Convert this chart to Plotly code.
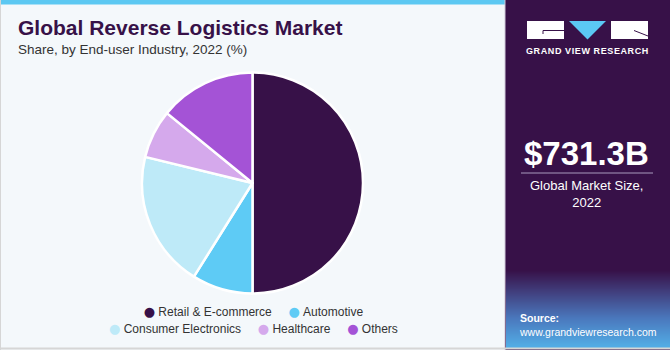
import plotly.graph_objects as go

# ---- data ----
categories = ["Retail & E-commerce", "Automotive", "Consumer Electronics", "Healthcare", "Others"]
shares = [50.0, 8.9, 19.9, 7.1, 14.1]
colors = ["#371148", "#5ECBF5", "#BEEAF8", "#D5A9EC", "#A453D6"]
legend_rows = [categories[:2], categories[2:]]

title = "Global Reverse Logistics Market"
subtitle = "Share, by End-user Industry, 2022 (%)"
market_value = "$731.3B"
market_label = "Global Market Size,<br>2022"
source_title = "Source:"
source_url = "www.grandviewresearch.com"
brand = "GRAND VIEW RESEARCH"

W, H = 670, 350
BG = "#F4F8FB"
PURPLE = "#371148"


def px(x):
    return x / W


def py(y):
    return 1 - y / H


fig = go.Figure()

fig.add_trace(go.Pie(
    labels=categories,
    values=shares,
    marker=dict(colors=colors, line=dict(color="white", width=2.5)),
    sort=False,
    direction="clockwise",
    rotation=0,
    textinfo="none",
    hoverinfo="label+percent",
    showlegend=False,
    domain=dict(x=[px(142), px(363)], y=[py(294), py(72)]),
))

shapes = []
# top accent bar over the chart panel
shapes.append(dict(type="rect", xref="paper", yref="paper", x0=0, x1=px(505), y0=py(4.5), y1=1,
                   fillcolor="#5CC8F2", line=dict(width=0), layer="below"))
# right info panel
shapes.append(dict(type="rect", xref="paper", yref="paper", x0=px(505), x1=1, y0=0, y1=1,
                   fillcolor=PURPLE, line=dict(width=0), layer="below"))
shapes.append(dict(type="line", xref="paper", yref="paper", x0=px(505), x1=px(505), y0=0, y1=1,
                   line=dict(color="#cfc8d8", width=1)))


# gradient band behind the source note
def mix(c1, c2, t):
    a = [int(c1[i:i + 2], 16) for i in (1, 3, 5)]
    b = [int(c2[i:i + 2], 16) for i in (1, 3, 5)]
    return "#%02x%02x%02x" % tuple(round(a[k] + (b[k] - a[k]) * t) for k in range(3))


stops = [(270, PURPLE), (292, "#41407f"), (318, "#4a78bd"), (348, "#53b0e8")]
for (ya, ca), (yb, cb) in zip(stops[:-1], stops[1:]):
    steps = int(yb - ya)
    for s in range(steps):
        y0 = ya + s
        shapes.append(dict(type="rect", xref="paper", yref="paper", x0=px(506), x1=1,
                           y0=py(y0 + 1.2), y1=py(y0), fillcolor=mix(ca, cb, s / steps),
                           line=dict(width=0), layer="below"))

# logo blocks
shapes.append(dict(type="rect", xref="paper", yref="paper", x0=px(527), x1=px(564), y0=py(39), y1=py(21),
                   fillcolor="white", line=dict(width=0)))
shapes.append(dict(type="path", xref="paper", yref="paper",
                   path=f"M {px(569)} {py(21)} L {px(606)} {py(21)} L {px(587.5)} {py(39.5)} Z",
                   fillcolor="#5BC8F4", line=dict(width=0)))
shapes.append(dict(type="rect", xref="paper", yref="paper", x0=px(611), x1=px(648), y0=py(39), y1=py(21),
                   fillcolor="white", line=dict(width=0)))
shapes.append(dict(type="path", xref="paper", yref="paper",
                   path=f"M {px(543)} {py(34)} L {px(543)} {py(30.5)} L {px(564)} {py(30.5)}",
                   line=dict(color=PURPLE, width=1)))
shapes.append(dict(type="line", xref="paper", yref="paper", x0=px(634), x1=px(648), y0=py(30.5), y1=py(36),
                   line=dict(color=PURPLE, width=1)))
# separator under the headline figure
shapes.append(dict(type="line", xref="paper", yref="paper", x0=px(521), x1=px(653), y0=py(173), y1=py(173),
                   line=dict(color="#a99bbd", width=1)))
# outer frame edges
shapes.append(dict(type="line", xref="paper", yref="paper", x0=0, x1=1, y0=py(348.5), y1=py(348.5),
                   line=dict(color="#d6d6d6", width=2)))
shapes.append(dict(type="line", xref="paper", yref="paper", x0=px(0.5), x1=px(0.5), y0=0, y1=1,
                   line=dict(color="#d6d6d6", width=1)))

ann = []
ann.append(dict(text=f"<b>{title}</b>", x=px(16), y=py(28), xanchor="left", yanchor="middle",
                font=dict(family="Liberation Sans", size=21, color=PURPLE)))
ann.append(dict(text=subtitle, x=px(16), y=py(50), xanchor="left", yanchor="middle",
                font=dict(family="Liberation Sans", size=13.5, color="#333333")))

# legend: coloured bullet + label, two centred rows under the pie
color_of = dict(zip(categories, colors))
row_texts = []
for row in legend_rows:
    parts = [f"<span style='color:{color_of[c]};font-family:DejaVu Sans;font-size:13px'>●</span>"
             f"<span style='font-size:12px'>&nbsp;{c}</span>" for c in row]
    row_texts.append("<span style='font-size:12px'>&nbsp;&nbsp;&nbsp;&nbsp;&nbsp;</span>".join(parts))
ann.append(dict(text="<br>".join(row_texts), x=px(253), y=py(319.5), xanchor="center", yanchor="middle",
                align="center", font=dict(family="Liberation Sans", size=13, color="#333333")))

ann.append(dict(text=f"<span style='letter-spacing:0.6px'><b>{brand}</b></span>", x=px(587.5), y=py(51),
                xanchor="center", yanchor="middle",
                font=dict(family="Liberation Sans", size=9, color="white")))
ann.append(dict(text=f"<b>{market_value}</b>", x=px(586), y=py(153), xanchor="center", yanchor="middle",
                font=dict(family="Liberation Sans", size=33, color="white")))
ann.append(dict(text=market_label, x=px(586), y=py(194), xanchor="center", yanchor="middle",
                font=dict(family="Liberation Sans", size=13, color="white")))
ann.append(dict(text=f"<b>{source_title}</b><br>{source_url}", x=px(517), y=py(325), xanchor="left",
                yanchor="middle", align="left",
                font=dict(family="Liberation Sans", size=10.5, color="white")))

for a in ann:
    a.update(xref="paper", yref="paper", showarrow=False)

fig.update_layout(
    width=W, height=H,
    margin=dict(l=0, r=0, t=0, b=0),
    paper_bgcolor=BG, plot_bgcolor=BG,
    shapes=shapes, annotations=ann,
    showlegend=False,
)

fig.write_html("out.html")
